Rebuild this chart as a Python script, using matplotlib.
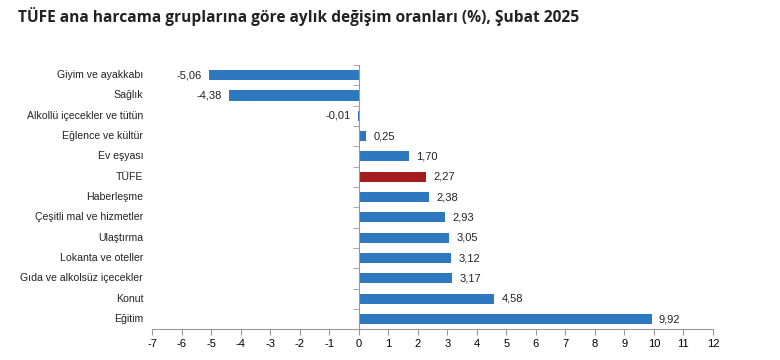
import matplotlib.pyplot as plt
import matplotlib.transforms as mtransforms
import numpy as np

categories = ['Giyim ve ayakkabı', 'Sağlık', 'Alkollü içecekler ve tütün',
              'Eğlence ve kültür', 'Ev eşyası', 'TÜFE', 'Haberleşme',
              'Çeşitli mal ve hizmetler', 'Ulaştırma', 'Lokanta ve oteller',
              'Gıda ve alkolsüz içecekler', 'Konut', 'Eğitim']
values = [-5.06, -4.38, -0.01, 0.25, 1.70, 2.27, 2.38, 2.93, 3.05, 3.12, 3.17, 4.58, 9.92]
x_ticks = list(range(-7, 13))

blue = '#2E78C0'
red = '#A51C1C'
colors = [red if c == 'TÜFE' else blue for c in categories]

plt.rcParams['font.family'] = ['Liberation Sans', 'DejaVu Sans']

fig = plt.figure(figsize=(7.8, 3.6), dpi=100)
ax = fig.add_axes([0.195, 0.0856, 0.719, 0.734])

y = np.arange(len(categories))
ax.barh(y, values, height=0.5, color=colors, zorder=2)

for yi, v in zip(y, values):
    txt = f'{v:.2f}'.replace('.', ',')
    if v < 0:
        ax.text(v - 0.25, yi, txt, ha='right', va='center', fontsize=8, color='#222222')
    else:
        ax.text(v + 0.25, yi, txt, ha='left', va='center', fontsize=8, color='#222222')

ax.set_xlim(-7, 12)
ax.set_ylim(len(categories) - 0.5, -0.5)
ax.set_xticks(x_ticks)
ax.set_xticklabels([str(t) for t in x_ticks], fontsize=8)

# category labels drawn to the left of the plot area
ax.set_yticks([])
trans = mtransforms.blended_transform_factory(ax.transAxes, ax.transData)
for yi, c in zip(y, categories):
    ax.text(-0.016, yi, c, ha='right', va='center', fontsize=7.6, color='#222222',
            transform=trans, clip_on=False)

# y axis at zero with ticks between categories
ax.spines['left'].set_position(('data', 0))
ax.spines['left'].set_color('#999999')
ax.spines['top'].set_visible(False)
ax.spines['right'].set_visible(False)
ax.spines['bottom'].set_color('#999999')
ax.set_yticks(np.arange(len(categories) + 1) - 0.5, minor=True)
ax.tick_params(axis='y', which='minor', length=4, color='#999999', direction='out')
ax.tick_params(axis='x', length=4, color='#999999', pad=3)

fig.text(0.023, 0.955, 'TÜFE ana harcama gruplarına göre aylık değişim oranları (%), Şubat 2025',
         fontsize=11.2, fontweight='bold', family=['Open Sans', 'DejaVu Sans'],
         color='#222222', va='center')

fig.savefig('out.png', dpi=100)
